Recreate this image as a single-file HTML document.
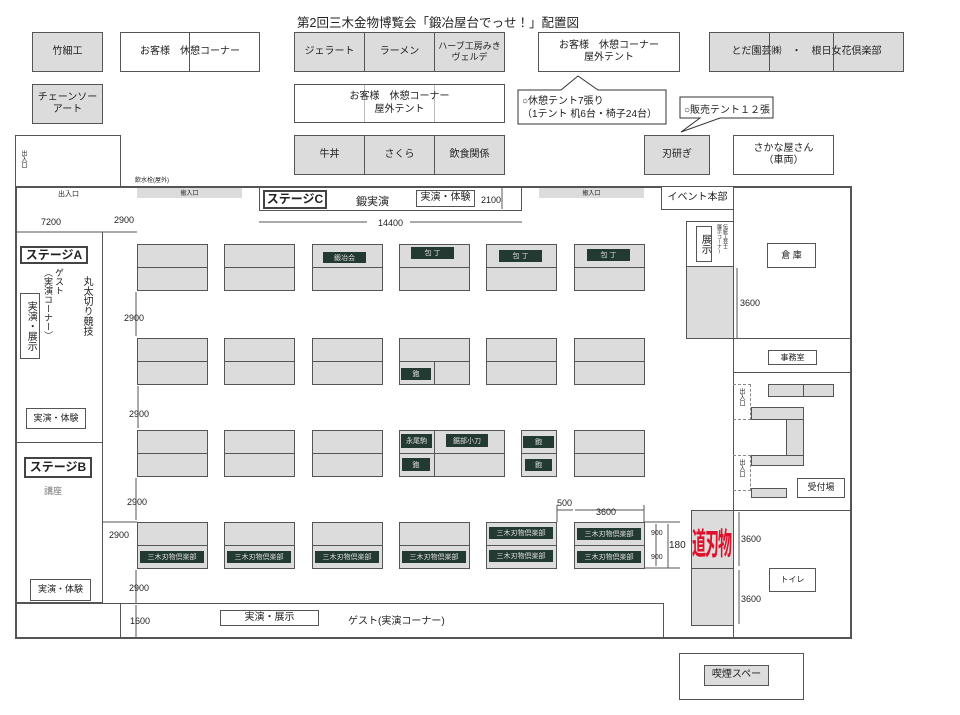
<!DOCTYPE html>
<html><head><meta charset="utf-8"><style>
*{margin:0;padding:0;box-sizing:border-box}
body{width:960px;height:715px;background:#fff;position:relative;overflow:hidden;font-family:"Liberation Sans","Noto Sans CJK JP",sans-serif;color:#222}
div{position:absolute}
.b{border:1px solid #555;display:flex;align-items:center;justify-content:center;text-align:center;font-size:10px;line-height:1.25}
.g{background:#dcdcdc}
.w{background:#fff}
.l{background:#555}
.t{font-size:9px;white-space:nowrap}
.lab{background:#233a33;color:#ddd;font-size:7px;display:flex;align-items:center;justify-content:center;white-space:nowrap}
.bk{border:1px solid #555}
.bo{border:1px solid #555;background:linear-gradient(#dcdcdc 0 22px,#555 22px 23px,#dcdcdc 23px)}
.v{writing-mode:vertical-rl;font-size:10px}
svg{position:absolute;left:0;top:0}
</style></head><body>
<div style="left:297px;top:12px;font-size:12.5px;white-space:nowrap">第2回三木金物博覧会「鍛冶屋台でっせ！」配置図</div>

<div class="b g" style="left:32px;top:32px;width:71px;height:40px">竹細工</div>
<div class="b w" style="left:120px;top:32px;width:140px;height:40px">お客様　休憩コーナー</div>
<div class="l" style="left:189px;top:32px;width:1px;height:40px"></div>
<div class="b g" style="left:294px;top:32px;width:71px;height:40px">ジェラート</div>
<div class="b g" style="left:364px;top:32px;width:71px;height:40px">ラーメン</div>
<div class="b g" style="left:434px;top:32px;width:71px;height:40px;font-size:9px">ハーブ工房みき<br>ヴェルデ</div>
<div class="b w" style="left:538px;top:32px;width:142px;height:40px">お客様　休憩コーナー<br>屋外テント</div>
<div class="b g" style="left:709px;top:32px;width:195px;height:40px">とだ園芸㈱　・　根日女花倶楽部</div>
<div class="l" style="left:769px;top:32px;width:1px;height:40px"></div>
<div class="l" style="left:833px;top:32px;width:1px;height:40px"></div>

<div class="b g" style="left:32px;top:84px;width:71px;height:40px">チェーンソー<br>アート</div>
<div class="b w" style="left:294px;top:84px;width:211px;height:39px">お客様　休憩コーナー<br>屋外テント</div>
<div class="l" style="left:364px;top:84px;width:1px;height:39px;opacity:.4"></div>
<div class="l" style="left:434px;top:84px;width:1px;height:39px;opacity:.4"></div>

<svg width="960" height="715">
<polygon points="518,90 561,90 578,76 598,90 666,90 666,124 518,124" fill="#fff" stroke="#333"/>
<polygon points="680,97 773,97 773,118 720,118 681,132 700,118 680,118" fill="#fff" stroke="#333"/>
<g stroke="#555" fill="none" stroke-width="1">
<line x1="15" y1="232" x2="102" y2="232"/><line x1="102" y1="232" x2="137" y2="232"/>
<line x1="259" y1="222" x2="367" y2="222"/><line x1="410" y1="222" x2="522" y2="222"/>
<line x1="502" y1="188" x2="502" y2="209"/>
<line x1="136" y1="292" x2="136" y2="336"/><line x1="138" y1="386" x2="138" y2="428"/>
<line x1="136" y1="478" x2="136" y2="520"/><line x1="102" y1="522" x2="137" y2="522"/>
<line x1="136" y1="570" x2="136" y2="603"/><line x1="136" y1="605" x2="136" y2="637"/>
<line x1="557" y1="510" x2="573" y2="510"/><line x1="575" y1="510" x2="644" y2="510"/>
<line x1="557" y1="505" x2="557" y2="522"/><line x1="644" y1="505" x2="644" y2="522"/>
<line x1="656" y1="524" x2="656" y2="566"/><line x1="668" y1="524" x2="668" y2="568"/>
<line x1="644" y1="522" x2="680" y2="522"/><line x1="644" y1="568" x2="680" y2="568"/>
<line x1="737" y1="268" x2="737" y2="338"/>
<line x1="739" y1="512" x2="739" y2="566"/><line x1="739" y1="570" x2="739" y2="624"/>
</g>
</svg>
<div class="t" style="left:522px;top:95px;font-size:10px;line-height:1.3">○休憩テント7張り<br>（1テント 机6台・椅子24台）</div>
<div class="t" style="left:684px;top:101px;font-size:10px">○販売テント１２張</div>

<div class="b g" style="left:294px;top:135px;width:71px;height:40px">牛丼</div>
<div class="b g" style="left:364px;top:135px;width:71px;height:40px">さくら</div>
<div class="b g" style="left:434px;top:135px;width:71px;height:40px">飲食関係</div>
<div class="b g" style="left:644px;top:135px;width:66px;height:40px">刃研ぎ</div>
<div class="b w" style="left:733px;top:135px;width:101px;height:40px">さかな屋さん<br>（車両）</div>
<div class="bk" style="left:15px;top:135px;width:106px;height:53px"></div>
<div class="t" style="left:19px;top:150px;font-size:6px;writing-mode:vertical-rl">出入口</div>
<div class="t" style="left:135px;top:175px;font-size:6px">飲水栓(屋外)</div>

<!-- main building -->
<div style="left:15px;top:186px;width:837px;height:453px;border:2px solid #555"></div>
<div class="l" style="left:733px;top:186px;width:1px;height:452px"></div>
<div class="t" style="left:58px;top:189px;font-size:7px">出入口</div>
<div class="g" style="left:137px;top:188px;width:105px;height:10px;font-size:6px;text-align:center">搬入口</div>
<div class="g" style="left:539px;top:188px;width:105px;height:10px;font-size:6px;text-align:center">搬入口</div>
<div class="bk" style="left:259px;top:186px;width:263px;height:25px;border-top:none"></div>
<div class="b w" style="left:263px;top:190px;width:64px;height:19px;border:2px solid #444;font-size:12px;font-weight:bold">ステージC</div>
<div class="t" style="left:356px;top:193px;font-size:11px">鍛実演</div>
<div class="b w" style="left:416px;top:190px;width:59px;height:17px;font-size:10px">実演・体験</div>
<div class="t" style="left:481px;top:195px;font-size:9px">2100</div>
<div class="b w" style="left:661px;top:186px;width:73px;height:24px;font-size:10px">イベント本部</div>
<div class="t" style="left:378px;top:218px;font-size:9px">14400</div>
<div class="t" style="left:41px;top:217px;font-size:9px">7200</div>
<div class="t" style="left:114px;top:215px;font-size:9px">2900</div>

<!-- left stages -->
<div class="bk" style="left:15px;top:232px;width:88px;height:371px;border-top:none;border-left:none"></div>
<div class="l" style="left:15px;top:442px;width:88px;height:1px"></div>
<div class="l" style="left:15px;top:603px;width:106px;height:1px"></div>
<div class="b w" style="left:20px;top:246px;width:68px;height:18px;border:2px solid #444;font-size:12px;font-weight:bold">ステージA</div>
<div class="t v" style="left:42px;top:268px;font-size:9px;line-height:11px">ゲスト<br>（実演コーナー）</div>
<div class="t v" style="left:79px;top:276px">丸太切り競技</div>
<div class="b w" style="left:20px;top:293px;width:20px;height:66px;writing-mode:vertical-rl">実演・展示</div>
<div class="b w" style="left:26px;top:408px;width:60px;height:21px;font-size:9px">実演・体験</div>
<div class="b w" style="left:24px;top:457px;width:68px;height:21px;border:2px solid #444;font-size:12px;font-weight:bold">ステージB</div>
<div class="t" style="left:44px;top:484px;font-size:9px;color:#777">講座</div>
<div class="b w" style="left:30px;top:579px;width:61px;height:22px;font-size:9px">実演・体験</div>

<!-- dims -->
<div class="t" style="left:124px;top:313px">2900</div>
<div class="t" style="left:129px;top:409px">2900</div>
<div class="t" style="left:127px;top:497px">2900</div>
<div class="t" style="left:109px;top:530px">2900</div>
<div class="t" style="left:129px;top:583px">2900</div>
<div class="t" style="left:130px;top:616px">1600</div>
<div class="t" style="left:557px;top:498px">500</div>
<div class="t" style="left:596px;top:507px">3600</div>
<div class="t" style="left:651px;top:530px;font-size:7px">900</div>
<div class="t" style="left:651px;top:554px;font-size:7px">900</div>
<div class="t" style="left:669px;top:540px;font-size:10px">180</div>

<!-- booths -->
<div class="bo" style="left:137px;top:244px;width:71px;height:47px"></div>
<div class="bo" style="left:224px;top:244px;width:71px;height:47px"></div>
<div class="bo" style="left:312px;top:244px;width:71px;height:47px"></div>
<div class="bo" style="left:399px;top:244px;width:71px;height:47px"></div>
<div class="bo" style="left:486px;top:244px;width:71px;height:47px"></div>
<div class="bo" style="left:574px;top:244px;width:71px;height:47px"></div>

<div class="bo" style="left:137px;top:338px;width:71px;height:47px"></div>
<div class="bo" style="left:224px;top:338px;width:71px;height:47px"></div>
<div class="bo" style="left:312px;top:338px;width:71px;height:47px"></div>
<div class="bo" style="left:399px;top:338px;width:71px;height:47px"></div>
<div class="bo" style="left:486px;top:338px;width:71px;height:47px"></div>
<div class="bo" style="left:574px;top:338px;width:71px;height:47px"></div>

<div class="bo" style="left:137px;top:430px;width:71px;height:47px"></div>
<div class="bo" style="left:224px;top:430px;width:71px;height:47px"></div>
<div class="bo" style="left:312px;top:430px;width:71px;height:47px"></div>
<div class="bo" style="left:399px;top:430px;width:106px;height:47px"></div>
<div class="bo" style="left:521px;top:430px;width:36px;height:47px"></div>
<div class="bo" style="left:574px;top:430px;width:71px;height:47px"></div>

<div class="bo" style="left:137px;top:522px;width:71px;height:47px"></div>
<div class="bo" style="left:224px;top:522px;width:71px;height:47px"></div>
<div class="bo" style="left:312px;top:522px;width:71px;height:47px"></div>
<div class="bo" style="left:399px;top:522px;width:71px;height:47px"></div>
<div class="bo" style="left:486px;top:522px;width:71px;height:47px"></div>
<div class="bo" style="left:574px;top:522px;width:71px;height:47px"></div>

<div class="l" style="left:434px;top:361px;width:1px;height:24px"></div>
<div class="l" style="left:434px;top:430px;width:1px;height:47px"></div>

<div class="lab" style="left:323px;top:252px;width:43px;height:11px">鍛冶会</div>
<div class="lab" style="left:411px;top:247px;width:43px;height:12px">包 丁</div>
<div class="lab" style="left:499px;top:250px;width:43px;height:12px">包 丁</div>
<div class="lab" style="left:587px;top:249px;width:43px;height:12px">包 丁</div>
<div class="lab" style="left:401px;top:368px;width:30px;height:12px">鉋</div>
<div class="lab" style="left:401px;top:434px;width:31px;height:14px">永尾駒</div>
<div class="lab" style="left:446px;top:434px;width:42px;height:13px">鋸部小刀</div>
<div class="lab" style="left:402px;top:458px;width:28px;height:13px">鉋</div>
<div class="lab" style="left:523px;top:436px;width:31px;height:12px">鉋</div>
<div class="lab" style="left:525px;top:459px;width:27px;height:12px">鉋</div>
<div class="lab" style="left:140px;top:551px;width:64px;height:12px">三木刃物倶楽部</div>
<div class="lab" style="left:227px;top:551px;width:64px;height:12px">三木刃物倶楽部</div>
<div class="lab" style="left:315px;top:551px;width:64px;height:12px">三木刃物倶楽部</div>
<div class="lab" style="left:402px;top:551px;width:64px;height:12px">三木刃物倶楽部</div>
<div class="lab" style="left:489px;top:527px;width:64px;height:12px">三木刃物倶楽部</div>
<div class="lab" style="left:489px;top:550px;width:64px;height:12px">三木刃物倶楽部</div>
<div class="lab" style="left:577px;top:528px;width:64px;height:12px">三木刃物倶楽部</div>
<div class="lab" style="left:577px;top:551px;width:64px;height:12px">三木刃物倶楽部</div>

<!-- guest bottom -->
<div class="bk" style="left:120px;top:603px;width:544px;height:36px;border-bottom:none"></div>
<div class="b w" style="left:220px;top:610px;width:99px;height:16px;font-size:10px">実演・展示</div>
<div class="t" style="left:348px;top:612px;font-size:10px">ゲスト(実演コーナー)</div>

<!-- right interior column -->
<div class="bk w" style="left:686px;top:221px;width:48px;height:118px"></div>
<div class="bk g" style="left:686px;top:266px;width:48px;height:73px"></div>
<div class="b w" style="left:696px;top:226px;width:16px;height:36px;writing-mode:vertical-rl;font-size:10px">展示</div>
<div class="t" style="left:716px;top:224px;font-size:5px;writing-mode:vertical-rl;line-height:6px">伝統工芸士<br>展示コーナー</div>
<div class="t" style="left:740px;top:298px">3600</div>
<div class="bk g" style="left:691px;top:510px;width:43px;height:116px"></div>
<div class="l" style="left:691px;top:568px;width:43px;height:1px"></div>
<div class="t" style="left:692px;top:528px;font-size:14px;color:#e0102a;font-weight:bold;letter-spacing:-1px;transform:scaleY(2.2);transform-origin:left top;line-height:14px">道刃物</div>
<div class="t" style="left:741px;top:534px">3600</div>
<div class="t" style="left:741px;top:594px">3600</div>

<!-- right section -->
<div class="b w" style="left:767px;top:243px;width:49px;height:25px;font-size:9px">倉 庫</div>
<div class="l" style="left:733px;top:338px;width:118px;height:1px"></div>
<div class="b w" style="left:768px;top:350px;width:49px;height:15px;font-size:8px">事務室</div>
<div class="l" style="left:733px;top:372px;width:118px;height:1px"></div>
<div class="bk g" style="left:768px;top:384px;width:66px;height:13px"></div>
<div class="l" style="left:803px;top:384px;width:1px;height:13px"></div>
<div class="bk g" style="left:751px;top:407px;width:53px;height:13px"></div>
<div class="bk g" style="left:786px;top:419px;width:18px;height:37px"></div>
<div class="bk g" style="left:751px;top:455px;width:53px;height:11px"></div>
<div class="bk g" style="left:751px;top:488px;width:36px;height:10px"></div>
<div style="left:733px;top:384px;width:18px;height:36px;border:1px dashed #888;border-left:none"></div>
<div style="left:733px;top:455px;width:18px;height:36px;border:1px dashed #888;border-left:none"></div>
<div class="t" style="left:737px;top:388px;font-size:6px;writing-mode:vertical-rl">出入口</div>
<div class="t" style="left:737px;top:459px;font-size:6px;writing-mode:vertical-rl">出入口</div>
<div class="b w" style="left:797px;top:478px;width:48px;height:20px;font-size:9px">受付場</div>
<div class="l" style="left:733px;top:510px;width:118px;height:1px"></div>
<div class="b w" style="left:769px;top:568px;width:47px;height:24px;font-size:8px">トイレ</div>

<div class="bk w" style="left:679px;top:653px;width:125px;height:47px"></div>
<div class="b g" style="left:704px;top:665px;width:65px;height:21px;font-size:10px">喫煙スペー</div>
</body></html>
